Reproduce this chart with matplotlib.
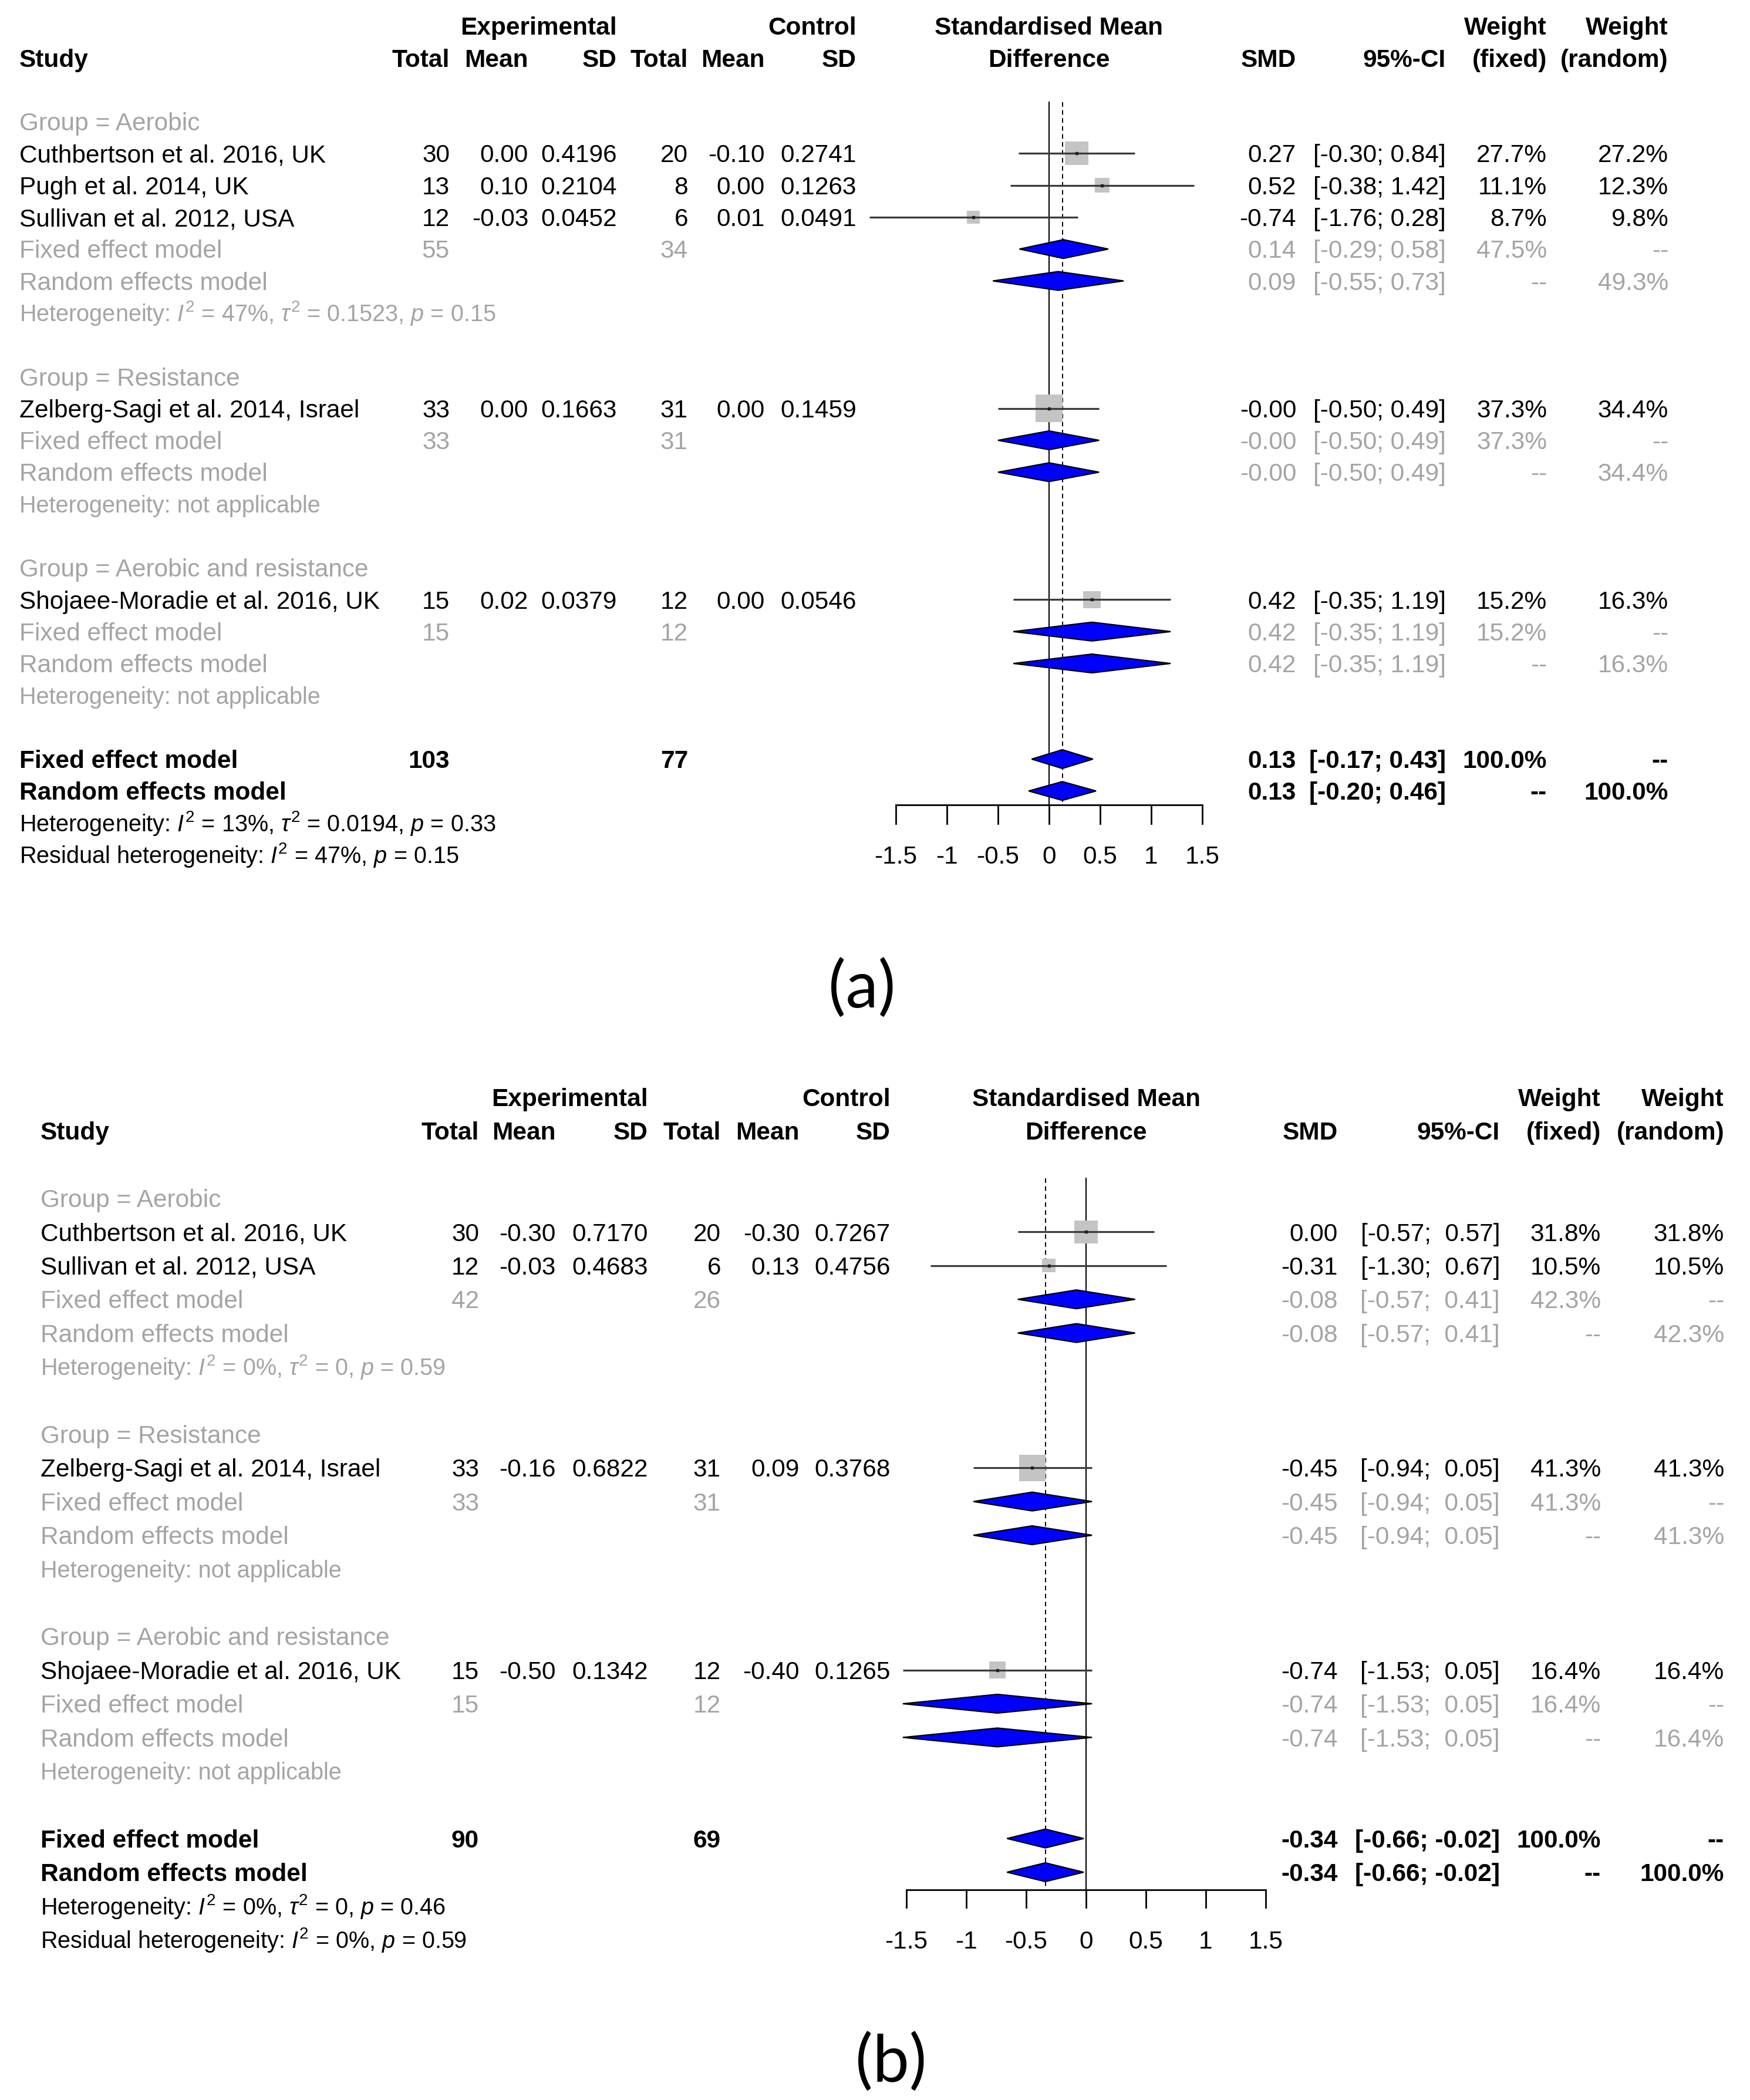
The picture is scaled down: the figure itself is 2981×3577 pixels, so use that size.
import matplotlib
matplotlib.use("Agg")
import matplotlib.pyplot as plt
from matplotlib.patches import Rectangle, Polygon
from matplotlib.transforms import blended_transform_factory

plt.rcParams['font.family'] = ['Liberation Sans', 'DejaVu Sans']
plt.rcParams['mathtext.fontset'] = 'custom'
plt.rcParams['mathtext.rm'] = 'Liberation Sans'
plt.rcParams['mathtext.it'] = 'Liberation Sans:italic'
plt.rcParams['mathtext.bf'] = 'Liberation Sans:bold'

# ---------------- data, panel (a) ----------------
studies_a = ["Cuthbertson et al. 2016, UK", "Pugh et al. 2014, UK", "Sullivan et al. 2012, USA",
             "Zelberg-Sagi et al. 2014, Israel", "Shojaee-Moradie et al. 2016, UK"]
groups_a = ["Aerobic", "Aerobic", "Aerobic", "Resistance", "Aerobic and resistance"]
n_e_a = [30, 13, 12, 33, 15]
mean_e_a = [0.00, 0.10, -0.03, 0.00, 0.02]
sd_e_a = [0.4196, 0.2104, 0.0452, 0.1663, 0.0379]
n_c_a = [20, 8, 6, 31, 12]
mean_c_a = [-0.10, 0.00, 0.01, 0.00, 0.00]
sd_c_a = [0.2741, 0.1263, 0.0491, 0.1459, 0.0546]
smd_a = [0.27, 0.52, -0.74, -0.00, 0.42]
lo_a = [-0.30, -0.38, -1.76, -0.50, -0.35]
hi_a = [0.84, 1.42, 0.28, 0.49, 1.19]
wf_a = [27.7, 11.1, 8.7, 37.3, 15.2]
wr_a = [27.2, 12.3, 9.8, 34.4, 16.3]

sub_names = ["Aerobic", "Resistance", "Aerobic and resistance"]
sub_ne_a = [55, 33, 15]
sub_nc_a = [34, 31, 12]
sub_fix_a = [0.14, -0.00, 0.42]
sub_fix_lo_a = [-0.29, -0.50, -0.35]
sub_fix_hi_a = [0.58, 0.49, 1.19]
sub_fix_w_a = [47.5, 37.3, 15.2]
sub_ran_a = [0.09, -0.00, 0.42]
sub_ran_lo_a = [-0.55, -0.50, -0.35]
sub_ran_hi_a = [0.73, 0.49, 1.19]
sub_ran_w_a = [49.3, 34.4, 16.3]
sub_het_a = [r"Heterogeneity: $I^2$ = 47%, $\tau^2$ = 0.1523, $p$ = 0.15",
             "Heterogeneity: not applicable", "Heterogeneity: not applicable"]

tot_ne_a, tot_nc_a = 103, 77
fix_a = [0.13, -0.17, 0.43]
ran_a = [0.13, -0.20, 0.46]
het_a = r"Heterogeneity: $I^2$ = 13%, $\tau^2$ = 0.0194, $p$ = 0.33"
res_a = r"Residual heterogeneity: $I^2$ = 47%, $p$ = 0.15"

# ---------------- data, panel (b) ----------------
studies_b = ["Cuthbertson et al. 2016, UK", "Sullivan et al. 2012, USA",
             "Zelberg-Sagi et al. 2014, Israel", "Shojaee-Moradie et al. 2016, UK"]
groups_b = ["Aerobic", "Aerobic", "Resistance", "Aerobic and resistance"]
n_e_b = [30, 12, 33, 15]
mean_e_b = [-0.30, -0.03, -0.16, -0.50]
sd_e_b = [0.7170, 0.4683, 0.6822, 0.1342]
n_c_b = [20, 6, 31, 12]
mean_c_b = [-0.30, 0.13, 0.09, -0.40]
sd_c_b = [0.7267, 0.4756, 0.3768, 0.1265]
smd_b = [0.00, -0.31, -0.45, -0.74]
lo_b = [-0.57, -1.30, -0.94, -1.53]
hi_b = [0.57, 0.67, 0.05, 0.05]
wf_b = [31.8, 10.5, 41.3, 16.4]
wr_b = [31.8, 10.5, 41.3, 16.4]

sub_ne_b = [42, 33, 15]
sub_nc_b = [26, 31, 12]
sub_fix_b = [-0.08, -0.45, -0.74]
sub_fix_lo_b = [-0.57, -0.94, -1.53]
sub_fix_hi_b = [0.41, 0.05, 0.05]
sub_fix_w_b = [42.3, 41.3, 16.4]
sub_ran_b = [-0.08, -0.45, -0.74]
sub_ran_lo_b = [-0.57, -0.94, -1.53]
sub_ran_hi_b = [0.41, 0.05, 0.05]
sub_ran_w_b = [42.3, 41.3, 16.4]
sub_het_b = [r"Heterogeneity: $I^2$ = 0%, $\tau^2$ = 0, $p$ = 0.59",
             "Heterogeneity: not applicable", "Heterogeneity: not applicable"]

tot_ne_b, tot_nc_b = 90, 69
fix_b = [-0.34, -0.66, -0.02]
ran_b = [-0.34, -0.66, -0.02]
het_b = r"Heterogeneity: $I^2$ = 0%, $\tau^2$ = 0, $p$ = 0.46"
res_b = r"Residual heterogeneity: $I^2$ = 0%, $p$ = 0.59"

ticks = [-1.5, -1, -0.5, 0, 0.5, 1, 1.5]

# ---------------- layout ----------------
W, H = 2981, 3577
FS = 30.5
FS_HET = 28.5
GRAY = '#a4a4a4'

CFG_A = dict(top=0, bottom=1788, x0=1787, ppu=174, row0=207, rowpx=54.3, axis_off=0.43,
             tick_px=32, k_sq=7.6, label='(a)', label_xy=(1468, 1685),
             cols=dict(study=33, ne=766, me=900, sde=1051, nc=1172, mc=1303, sdc=1459,
                       smd=2208, ci=2463, wf=2635, wr=2842))
CFG_B = dict(top=1788, bottom=3577, x0=1850, ppu=204, row0=2041, rowpx=57.4, axis_off=0.52,
             tick_px=30, k_sq=7.0, label='(b)', label_xy=(1518, 3514),
             cols=dict(study=69, ne=816, me=947, sde=1104, nc=1228, mc=1362, sdc=1517,
                       smd=2279, ci=2555, wf=2727, wr=2937))

fig = plt.figure(figsize=(W / 100, H / 100), dpi=100)


def ci_formatter(los, his):
    wl = max(len(f"{v:.2f}") for v in los)
    wh = max(len(f"{v:.2f}") for v in his)

    def fmt(lo, hi):
        a, b = f"{lo:.2f}", f"{hi:.2f}"
        return "[" + " " * (wl - len(a)) + a + ";" + " " * (1 + wh - len(b)) + b + "]"
    return fmt


def diamond(ax, est, lo, hi, r, dh):
    ax.add_patch(Polygon([(lo, r), (est, r - dh), (hi, r), (est, r + dh)], closed=True,
                         facecolor='#0000ff', edgecolor='black', lw=1.6, zorder=5))


def draw_panel(cfg, studies, groups, n_e, mean_e, sd_e, n_c, mean_c, sd_c, smd, lo, hi, wf, wr,
               sub_ne, sub_nc, sub_fix, sub_fix_lo, sub_fix_hi, sub_fix_w,
               sub_ran, sub_ran_lo, sub_ran_hi, sub_ran_w, sub_het,
               tot_ne, tot_nc, fix, ran, het, res):
    ax = fig.add_axes([0, 1 - cfg['bottom'] / H, 1, (cfg['bottom'] - cfg['top']) / H])
    ax.set_xlim(-cfg['x0'] / cfg['ppu'], (W - cfg['x0']) / cfg['ppu'])
    ax.set_ylim((cfg['bottom'] - cfg['row0']) / cfg['rowpx'], (cfg['top'] - cfg['row0']) / cfg['rowpx'])
    ax.axis('off')
    tr = blended_transform_factory(fig.transFigure, ax.transData)
    c = cfg['cols']
    half = 0.716 * FS * 100 / 72 / 2 / cfg['rowpx']
    half_h = 0.716 * FS_HET * 100 / 72 / 2 / cfg['rowpx']

    def put(col, r, s, ha='right', color='black', weight='normal', size=FS, hh=half):
        ax.text(c[col] / W, r + hh, s, transform=tr, ha=ha, va='baseline',
                color=color, fontweight=weight, fontsize=size)

    fmt_ci = ci_formatter(lo + sub_fix_lo + sub_ran_lo + [fix[1], ran[1]],
                          hi + sub_fix_hi + sub_ran_hi + [fix[2], ran[2]])

    # headers
    for col, s in [('sde', 'Experimental'), ('sdc', 'Control'), ('wf', 'Weight'), ('wr', 'Weight')]:
        put(col, -3, s, weight='bold')
    put('study', -2, 'Study', ha='left', weight='bold')
    for col, s in [('ne', 'Total'), ('me', 'Mean'), ('sde', 'SD'), ('nc', 'Total'), ('mc', 'Mean'),
                   ('sdc', 'SD'), ('smd', 'SMD'), ('ci', '95%-CI'), ('wf', '(fixed)'), ('wr', '(random)')]:
        put(col, -2, s, weight='bold')
    ax.text(0, -3 + half, 'Standardised Mean', ha='center', va='baseline', fontsize=FS, fontweight='bold')
    ax.text(0, -2 + half, 'Difference', ha='center', va='baseline', fontsize=FS, fontweight='bold')

    dh = 16 / cfg['rowpx']
    r = 0
    for gi, g in enumerate(sub_names):
        put('study', r, f"Group = {g}", ha='left', color=GRAY)
        r += 1
        for i in [k for k in range(len(studies)) if groups[k] == g]:
            put('study', r, studies[i], ha='left')
            put('ne', r, f"{n_e[i]}")
            put('me', r, f"{mean_e[i]:.2f}")
            put('sde', r, f"{sd_e[i]:.4f}")
            put('nc', r, f"{n_c[i]}")
            put('mc', r, f"{mean_c[i]:.2f}")
            put('sdc', r, f"{sd_c[i]:.4f}")
            put('smd', r, f"{smd[i]:.2f}")
            put('ci', r, fmt_ci(lo[i], hi[i]))
            put('wf', r, f"{wf[i]:.1f}%")
            put('wr', r, f"{wr[i]:.1f}%")
            side = cfg['k_sq'] * wf[i] ** 0.5
            ax.add_patch(Rectangle((smd[i] - side / 2 / cfg['ppu'], r - side / 2 / cfg['rowpx']),
                                   side / cfg['ppu'], side / cfg['rowpx'],
                                   facecolor='#c4c4c4', edgecolor='none', zorder=2))
            ax.plot([lo[i], hi[i]], [r, r], color='#3a3a3a', lw=2.3, zorder=3, solid_capstyle='butt')
            ax.plot([smd[i]], [r], marker='s', ms=2.5, color='#222222', zorder=4)
            r += 1
        # subgroup fixed / random
        put('study', r, 'Fixed effect model', ha='left', color=GRAY)
        put('ne', r, f"{sub_ne[gi]}", color=GRAY)
        put('nc', r, f"{sub_nc[gi]}", color=GRAY)
        put('smd', r, f"{sub_fix[gi]:.2f}", color=GRAY)
        put('ci', r, fmt_ci(sub_fix_lo[gi], sub_fix_hi[gi]), color=GRAY)
        put('wf', r, f"{sub_fix_w[gi]:.1f}%", color=GRAY)
        put('wr', r, '--', color=GRAY)
        diamond(ax, sub_fix[gi], sub_fix_lo[gi], sub_fix_hi[gi], r, dh)
        r += 1
        put('study', r, 'Random effects model', ha='left', color=GRAY)
        put('smd', r, f"{sub_ran[gi]:.2f}", color=GRAY)
        put('ci', r, fmt_ci(sub_ran_lo[gi], sub_ran_hi[gi]), color=GRAY)
        put('wf', r, '--', color=GRAY)
        put('wr', r, f"{sub_ran_w[gi]:.1f}%", color=GRAY)
        diamond(ax, sub_ran[gi], sub_ran_lo[gi], sub_ran_hi[gi], r, dh)
        r += 1
        put('study', r, sub_het[gi], ha='left', color=GRAY, size=FS_HET, hh=half_h)
        r += 2

    # overall
    put('study', r, 'Fixed effect model', ha='left', weight='bold')
    put('ne', r, f"{tot_ne}", weight='bold')
    put('nc', r, f"{tot_nc}", weight='bold')
    put('smd', r, f"{fix[0]:.2f}", weight='bold')
    put('ci', r, fmt_ci(fix[1], fix[2]), weight='bold')
    put('wf', r, '100.0%', weight='bold')
    put('wr', r, '--', weight='bold')
    diamond(ax, fix[0], fix[1], fix[2], r, dh)
    r += 1
    put('study', r, 'Random effects model', ha='left', weight='bold')
    put('smd', r, f"{ran[0]:.2f}", weight='bold')
    put('ci', r, fmt_ci(ran[1], ran[2]), weight='bold')
    put('wf', r, '--', weight='bold')
    put('wr', r, '100.0%', weight='bold')
    diamond(ax, ran[0], ran[1], ran[2], r, dh)
    r_ran = r
    r += 1
    put('study', r, het, ha='left', size=FS_HET, hh=half_h)
    r += 1
    put('study', r, res, ha='left', size=FS_HET, hh=half_h)

    # reference lines and axis
    ra = r_ran + cfg['axis_off']
    ax.plot([0, 0], [-0.6, ra], color='black', lw=1.5, zorder=1)
    ax.plot([fix[0], fix[0]], [-0.6, ra], color='black', lw=1.4, ls=(0, (4, 3)), zorder=1)
    ax.plot([ticks[0], ticks[-1]], [ra, ra], color='black', lw=2, zorder=1, solid_capstyle='butt')
    for t in ticks:
        ax.plot([t, t], [ra, ra + cfg['tick_px'] / cfg['rowpx']], color='black', lw=2, zorder=1)
        ax.text(t, r_ran + 2 + half, f"{t:g}", ha='center', va='baseline', fontsize=FS)

    fig.text(cfg['label_xy'][0] / W, 1 - cfg['label_xy'][1] / H, cfg['label'], ha='center', va='center',
             fontsize=80, family=['Lato', 'DejaVu Sans'])


draw_panel(CFG_A, studies_a, groups_a, n_e_a, mean_e_a, sd_e_a, n_c_a, mean_c_a, sd_c_a, smd_a, lo_a, hi_a,
           wf_a, wr_a, sub_ne_a, sub_nc_a, sub_fix_a, sub_fix_lo_a, sub_fix_hi_a, sub_fix_w_a,
           sub_ran_a, sub_ran_lo_a, sub_ran_hi_a, sub_ran_w_a, sub_het_a,
           tot_ne_a, tot_nc_a, fix_a, ran_a, het_a, res_a)
draw_panel(CFG_B, studies_b, groups_b, n_e_b, mean_e_b, sd_e_b, n_c_b, mean_c_b, sd_c_b, smd_b, lo_b, hi_b,
           wf_b, wr_b, sub_ne_b, sub_nc_b, sub_fix_b, sub_fix_lo_b, sub_fix_hi_b, sub_fix_w_b,
           sub_ran_b, sub_ran_lo_b, sub_ran_hi_b, sub_ran_w_b, sub_het_b,
           tot_ne_b, tot_nc_b, fix_b, ran_b, het_b, res_b)

fig.savefig("out.png", dpi=100, facecolor='white')
